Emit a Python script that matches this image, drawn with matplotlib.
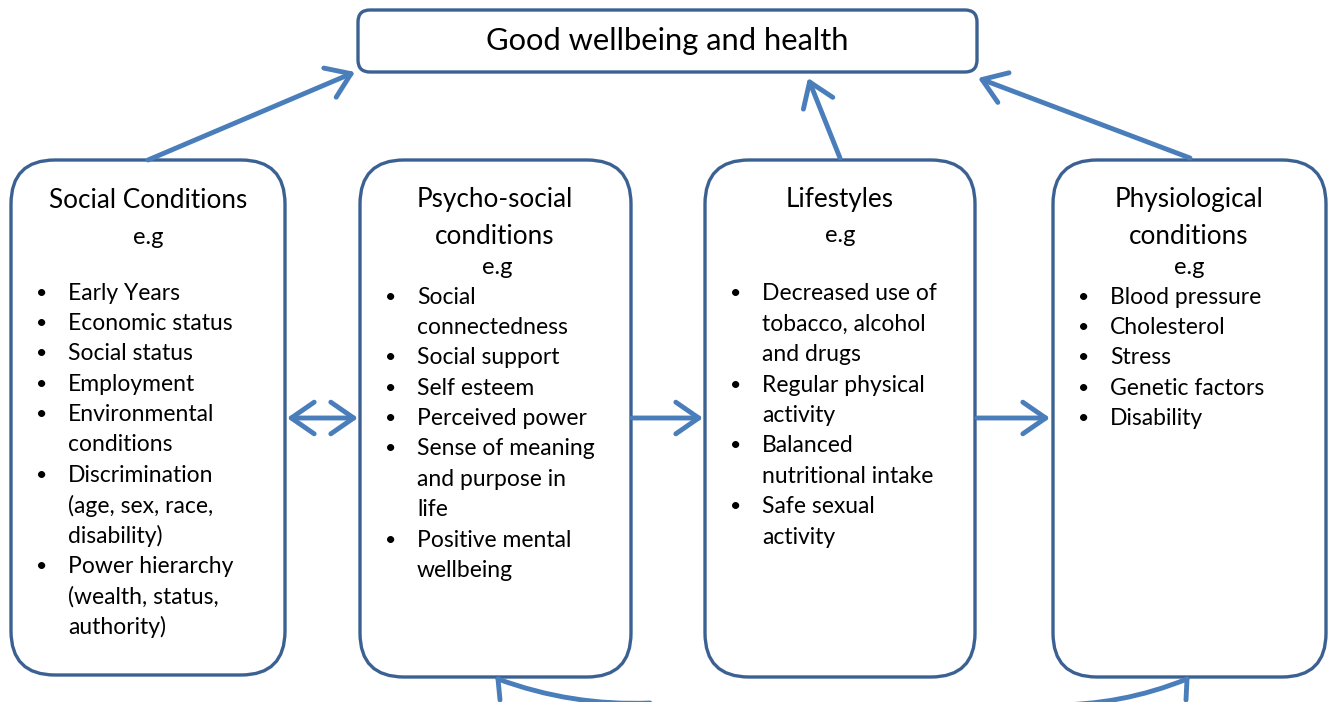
import matplotlib.pyplot as plt
from matplotlib.patches import FancyBboxPatch, FancyArrowPatch

plt.rcParams["font.family"] = ["Lato", "DejaVu Sans"]

BOX_EDGE = "#3b6192"
ARROW = "#4a7ebb"

top_title = "Good wellbeing and health"

headings = [
    ["Social Conditions", "e.g"],
    ["Psycho-social", "conditions", "e.g"],
    ["Lifestyles", "e.g"],
    ["Physiological", "conditions", "e.g"],
]

# each bullet is a list of wrapped lines
bullets = [
    [["Early Years"], ["Economic status"], ["Social status"], ["Employment"],
     ["Environmental", "conditions"],
     ["Discrimination", "(age, sex, race,", "disability)"],
     ["Power hierarchy", "(wealth, status,", "authority)"]],
    [["Social", "connectedness"], ["Social support"], ["Self esteem"],
     ["Perceived power"], ["Sense of meaning", "and purpose in", "life"],
     ["Positive mental", "wellbeing"]],
    [["Decreased use of", "tobacco, alcohol", "and drugs"],
     ["Regular physical", "activity"], ["Balanced", "nutritional intake"],
     ["Safe sexual", "activity"]],
    [["Blood pressure"], ["Cholesterol"], ["Stress"], ["Genetic factors"],
     ["Disability"]],
]

# box geometry in pixels: left, top, right, bottom
boxes = [(11, 160, 285, 675), (360, 160, 631, 677),
         (705, 160, 975, 677), (1053, 160, 1326, 677)]
heading_y = [[200, 237], [200, 236, 268], [200, 236], [200, 236, 268]]
heading_x = [148, 495, 840, 1189]
eg_x = [148, 497, 840, 1189]
list_top = [293, 297, 294, 297]
line_step = 30.4

fig = plt.figure(figsize=(13.32, 7.02), dpi=100)
ax = fig.add_axes([0, 0, 1, 1])
ax.set_xlim(0, 1332)
ax.set_ylim(702, 0)
ax.axis("off")

# top box
ax.add_patch(FancyBboxPatch((358 + 12, 10 + 12), 619 - 24, 62 - 24,
                            boxstyle="round,pad=12,rounding_size=12",
                            fc="white", ec=BOX_EDGE, lw=2.4))
ax.text(667, 41, top_title, ha="center", va="center", fontsize=22.2)

for i, (l, t, r, b) in enumerate(boxes):
    rad = 44
    ax.add_patch(FancyBboxPatch((l + rad, t + rad), r - l - 2 * rad, b - t - 2 * rad,
                                boxstyle=f"round,pad={rad},rounding_size={rad}",
                                fc="white", ec=BOX_EDGE, lw=2.4))
    for j, h in enumerate(headings[i]):
        x = eg_x[i] if h == "e.g" else heading_x[i]
        size = 17 if h == "e.g" else 18.8
        ax.text(x, heading_y[i][j], h, ha="center", va="center", fontsize=size)
    y = list_top[i]
    for item in bullets[i]:
        ax.text(l + 31, y, "\u2022", ha="center", va="center", fontsize=14)
        for line in item:
            ax.text(l + 57, y, line, ha="left", va="center", fontsize=16.5)
            y += line_step


def arrow(p0, p1, style, rad=0.0):
    ax.add_patch(FancyArrowPatch(p0, p1, arrowstyle=style,
                                 connectionstyle=f"arc3,rad={rad}",
                                 mutation_scale=30, color=ARROW, lw=3.5,
                                 shrinkA=0, shrinkB=0, capstyle="round"))


head = "->,head_length=0.55,head_width=0.38"
both = "<->,head_length=0.55,head_width=0.38"
arrow((148, 160), (355, 72), head)
arrow((840, 158), (808, 78), head)
arrow((1190, 158), (978, 78), head)
arrow((287, 418), (358, 418), both)
arrow((632, 418), (703, 418), head)
arrow((977, 418), (1050, 418), head)

# curved arrows entering from below the page; only one barb shows
arrow((650, 703), (498, 679), "-", rad=-0.1)
ax.plot([498, 500], [679, 700], color=ARROW, lw=3.5, solid_capstyle="round")
arrow((1050, 705), (1187, 679), "-", rad=0.1)
ax.plot([1187, 1186], [679, 700], color=ARROW, lw=3.5, solid_capstyle="round")

fig.savefig("out.png", dpi=100)
